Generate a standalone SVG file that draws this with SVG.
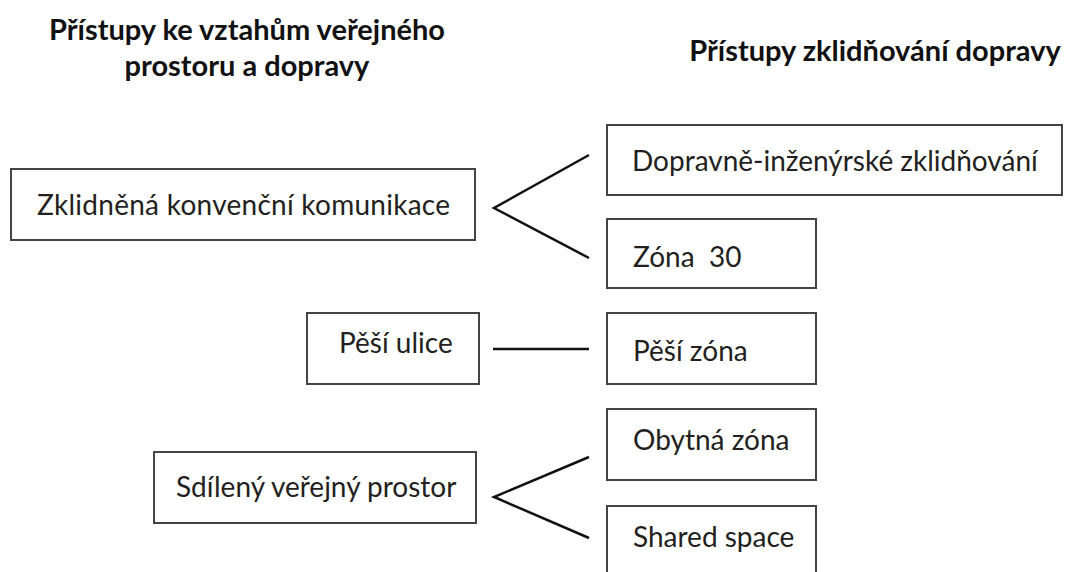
<svg xmlns="http://www.w3.org/2000/svg" width="1069" height="572" viewBox="0 0 1069 572">
<style>
.box{fill:#fff;stroke:#444;stroke-width:2}
.lbl{font-family:Lato,"Noto Sans",sans-serif;font-size:28px;fill:#231f20;white-space:pre}
.ttl{font-family:Lato,"Noto Sans",sans-serif;font-size:29px;font-weight:bold;fill:#111}
.con{fill:none;stroke:#111;stroke-width:2.5}
</style>
<rect width="1069" height="572" fill="#fff"/>
<g id="titles">
<text class="ttl" x="247" y="40" text-anchor="middle">Přístupy ke vztahům veřejného</text>
<text class="ttl" x="247" y="76" text-anchor="middle">prostoru a dopravy</text>
<text class="ttl" x="875" y="61" text-anchor="middle">Přístupy zklidňování dopravy</text>
</g>
<g id="connectors">
<polyline class="con" points="589,155 494,208 589,258"/>
<line class="con" x1="493" y1="349" x2="589" y2="349"/>
<polyline class="con" points="589,457 494,497 589,538"/>
</g>
<g id="n-zklidnena"><rect class="box" x="11" y="169" width="464" height="71"/><text class="lbl" x="37" y="215" textLength="413">Zklidněná konvenční komunikace</text></g>
<g id="n-dopravne"><rect class="box" x="607" y="125" width="455" height="70"/><text class="lbl" x="632" y="171">Dopravně-inženýrské zklidňování</text></g>
<g id="n-zona30"><rect class="box" x="607" y="219" width="209" height="69"/><text class="lbl" x="633" y="267" xml:space="preserve">Zóna  30</text></g>
<g id="n-pesi-ulice"><rect class="box" x="307" y="313" width="172" height="71"/><text class="lbl" x="339" y="353">Pěší ulice</text></g>
<g id="n-pesi-zona"><rect class="box" x="607" y="313" width="209" height="71"/><text class="lbl" x="633" y="361">Pěší zóna</text></g>
<g id="n-obytna"><rect class="box" x="607" y="409" width="209" height="71"/><text class="lbl" x="633" y="450">Obytná zóna</text></g>
<g id="n-shared"><rect class="box" x="607" y="506" width="209" height="72"/><text class="lbl" x="633" y="547">Shared space</text></g>
<g id="n-sdileny"><rect class="box" x="154" y="452" width="322" height="71"/><text class="lbl" x="176" y="497">Sdílený veřejný prostor</text></g>
</svg>
